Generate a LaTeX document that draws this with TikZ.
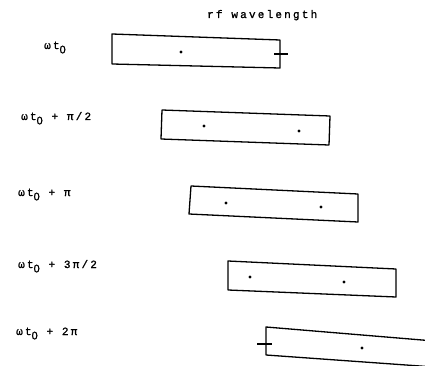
\documentclass[tikz,border=0pt]{standalone}
\usepackage{fontspec}
\setmainfont{Liberation Mono}[LetterSpace=20, FakeBold=1.2]
\newfontfamily\subf{Liberation Sans}[FakeBold=1.2]
\newcommand{\wtsub}{ωt\raisebox{-0.75ex}{\subf 0}}
\tikzset{
  bar/.style={draw=black, line width=1.3pt, line join=round},
  tick/.style={draw=black, line width=2.2pt},
  lbl/.style={anchor=base west, inner sep=0pt, font=\fontsize{11}{13}\selectfont},
  ttl/.style={anchor=base west, inner sep=0pt, font=\fontsize{11}{13}\selectfont},
  bdot/.style={fill=black, circle, inner sep=0pt, minimum size=3.4pt}
}
\begin{document}
\begin{tikzpicture}[x=1pt, y=-1pt]
\useasboundingbox (0,0) rectangle (425,366);
\clip (0,0) rectangle (425,366);
\node[ttl] (title) at (207,18) {rf wavelength};
% labels
\node[lbl] (l1) at (44,49) {\wtsub};
\node[lbl] (l2) at (21,120) {\wtsub{} + π/2};
\node[lbl] (l3) at (18,196) {\wtsub{} + π};
\node[lbl] (l4) at (18,268) {\wtsub{} + 3π/2};
\node[lbl] (l5) at (16,335) {\wtsub{} + 2π};
% boxes
\draw[bar] (112,34) -- (280,40) -- (280,68) -- (112,64) -- cycle;
\draw[bar] (162,110) -- (330,116) -- (329,145) -- (161,139) -- cycle;
\draw[bar] (191,186) -- (358,194) -- (358,222) -- (189,214) -- cycle;
\draw[bar] (228,261) -- (396,269) -- (396,297) -- (228,290) -- cycle;
\draw[bar] (266,327) -- (434,341) -- (434,367) -- (266,355) -- cycle;
% dots
\node[bdot] (d1) at (181,52) {};
\node[bdot] (d2a) at (204,126) {};
\node[bdot] (d2b) at (299,131) {};
\node[bdot] (d3a) at (226,203) {};
\node[bdot] (d3b) at (321,207) {};
\node[bdot] (d4a) at (250,277) {};
\node[bdot] (d4b) at (344,282) {};
\node[bdot] (d5) at (362,348) {};
% ticks
\coordinate (t1a) at (274,54);
\coordinate (t1b) at (288,54);
\coordinate (t5a) at (257,344);
\coordinate (t5b) at (272,344);
\draw[tick] (t1a) -- (t1b);
\draw[tick] (t5a) -- (t5b);
\end{tikzpicture}
\end{document}
